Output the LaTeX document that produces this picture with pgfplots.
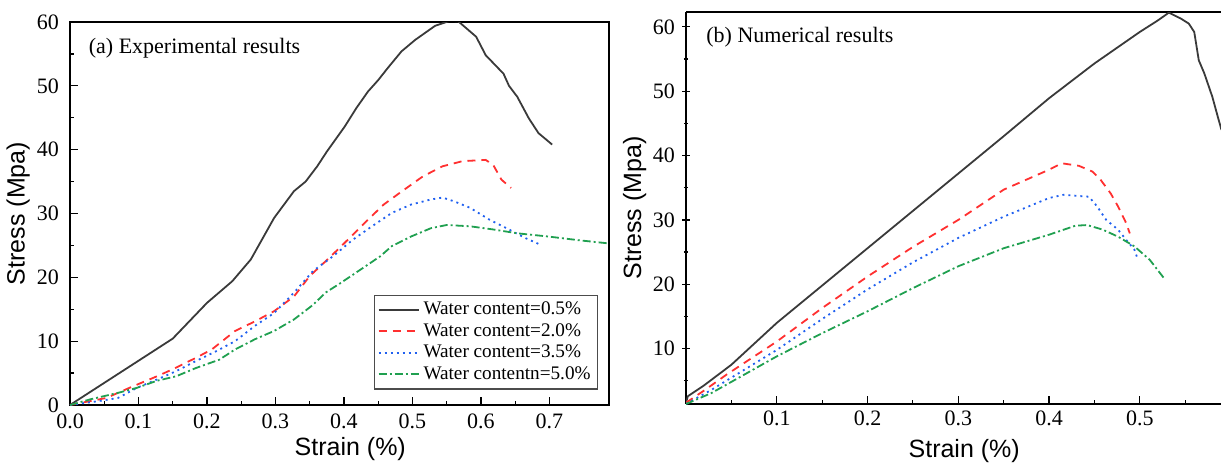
\documentclass[border=0pt]{standalone}
\usepackage{pgfplots}
\pgfplotsset{compat=1.18}
\usepackage{fontspec}
\setmainfont{Liberation Serif}
\newfontfamily\labelfont{Liberation Sans}
\definecolor{cblack}{HTML}{3A3A3A}
\definecolor{cred}{HTML}{FF3030}
\definecolor{cblue}{HTML}{2060F0}
\definecolor{cgreen}{HTML}{20A050}
\pgfplotsset{
  common/.style={
    scale only axis,
    tick align=inside,
    xtick pos=left, ytick pos=left,
    major tick length=4pt, minor tick length=2.2pt,
    minor x tick num=1, minor y tick num=1,
    every tick/.style={black, line width=0.6pt},
    axis line style={line width=0.7pt},
    /pgf/number format/assume math mode=true,
    tick label style={font=\fontsize{11}{12}\selectfont},
    ylabel={Stress (Mpa)},
    xlabel={Strain (\%)},
    every axis y label/.style={at={(axis description cs:-0.096,0.5)}, rotate=90, anchor=center, font=\labelfont\fontsize{12.5}{14}\selectfont},
    clip=true,
  },
  s1/.style={cblack, line width=0.9pt},
  s2/.style={cred, line width=0.9pt, dash pattern=on 4pt off 3pt},
  s3/.style={cblue, line width=0.9pt, dash pattern=on 1pt off 2pt},
  s4/.style={cgreen, line width=0.9pt, dash pattern=on 4pt off 1.5pt on 1pt off 1.5pt},
}
\begin{document}
\begin{tikzpicture}
\path[use as bounding box] (0,0) rectangle (610.5pt,231.5pt);
% Left panel
\begin{axis}[common,
  at={(35pt,29pt)}, anchor=south west,
  width=269.5pt, height=191.5pt,
  xmin=0, xmax=0.787, ymin=0, ymax=60,
  xtick={0,0.1,...,0.7},
  xticklabels={0.0,0.1,0.2,0.3,0.4,0.5,0.6,0.7},
  ytick={0,10,...,60},
  yticklabel style={xshift=-2pt},
  xticklabel style={yshift=-1pt},
  every axis x label/.style={at={(axis description cs:0.52,-0.115)}, anchor=center, font=\labelfont\fontsize{12.5}{14}\selectfont},
  legend style={at={(axis description cs:0.98,0.04)}, anchor=south east,
    font=\fontsize{9.6}{11}\selectfont, draw=black!70, line width=0.6pt,
    row sep=-1.2pt, inner sep=1.5pt, cells={anchor=west}},
  legend image post style={line width=1pt},
  legend image code/.code={\draw[#1] (0pt,0pt) -- (20pt,0pt);},
]
\addplot[s1] coordinates {
(0,0) (0.150,10.4) (0.200,16.0) (0.237,19.4) (0.264,22.8) (0.298,29.3) (0.327,33.5)
(0.344,35.0) (0.361,37.4) (0.375,39.7) (0.401,43.6) (0.418,46.5) (0.435,49.1)
(0.450,50.9) (0.464,52.8) (0.484,55.4) (0.504,57.2) (0.533,59.4) (0.555,60.2)
(0.567,60.1) (0.593,57.7) (0.607,54.8) (0.633,51.9) (0.641,50.0) (0.653,48.3)
(0.670,44.9) (0.684,42.6) (0.704,40.8)};
\addlegendentry{Water content=0.5\%}
\addplot[s2] coordinates {
(0,0) (0.053,1.1) (0.087,2.7) (0.127,4.5) (0.150,5.6) (0.184,7.4) (0.207,8.7)
(0.241,11.6) (0.270,13.1) (0.298,14.7) (0.327,17.0) (0.350,20.2) (0.378,23.0)
(0.401,25.4) (0.430,28.5) (0.458,31.4) (0.481,33.2) (0.515,35.8) (0.544,37.4)
(0.573,38.2) (0.607,38.4) (0.618,37.6) (0.630,35.3) (0.644,34.0)};
\addlegendentry{Water content=2.0\%}
\addplot[s3] coordinates {
(0,0) (0.041,0.6) (0.070,1.1) (0.098,2.7) (0.127,4.0) (0.155,5.3) (0.184,6.9)
(0.213,8.4) (0.241,10.0) (0.270,12.4) (0.298,14.4) (0.327,17.6) (0.355,21.0)
(0.384,23.3) (0.413,25.9) (0.441,28.0) (0.470,30.1) (0.498,31.4) (0.527,32.2)
(0.544,32.5) (0.561,31.9) (0.584,30.9) (0.613,29.0) (0.641,27.5) (0.664,26.2)
(0.687,25.1)};
\addlegendentry{Water content=3.5\%}
\addplot[s4] coordinates {
(0,0) (0.030,0.9) (0.070,1.9) (0.098,2.7) (0.127,3.8) (0.155,4.5) (0.184,5.8)
(0.218,7.1) (0.241,8.7) (0.270,10.3) (0.298,11.6) (0.327,13.4) (0.355,15.7)
(0.373,17.6) (0.395,19.1) (0.424,21.2) (0.453,23.3) (0.470,24.9) (0.498,26.4)
(0.527,27.7) (0.550,28.2) (0.584,28.0) (0.618,27.5) (0.653,26.9) (0.698,26.4)
(0.744,25.8) (0.788,25.3)};
\addlegendentry{Water contentn=5.0\%}
\node[anchor=west, font=\fontsize{11}{12}\selectfont, inner sep=0pt] at (axis cs:0.027,55.9) {(a) Experimental results};
\end{axis}
% Right panel
\begin{axis}[common,
  at={(343pt,29.5pt)}, anchor=south west,
  width=267.5pt, height=196pt,
  xmin=0, xmax=0.5895, ymin=1.4, ymax=62.3,
  axis x line=box, axis y line=left,
  every outer y axis line/.append style={-},
  xtick={0.1,0.2,...,0.5},
  xticklabels={0.1,0.2,0.3,0.4,0.5},
  extra x ticks={0.05,0.15,0.25,0.35,0.45,0.55}, extra x tick labels={},
  extra x tick style={major tick length=2.2pt},
  minor x tick num=0,
  ytick={10,20,...,60},
  minor ytick={5,15,25,35,45,55},
  minor y tick num=0,
  every axis x label/.style={at={(axis description cs:0.52,-0.12)}, anchor=center, font=\labelfont\fontsize{12.5}{14}\selectfont},
]
\addplot[s1] coordinates {
(0,1.6) (0.002,2.6) (0.019,4.2) (0.05,7.5) (0.1,14.0) (0.15,19.8) (0.2,25.6)
(0.25,31.4) (0.3,37.2) (0.35,43.0) (0.4,48.9) (0.45,54.3) (0.5,59.2) (0.52,61.0)
(0.532,62.2) (0.545,61.3) (0.554,60.5) (0.560,59.2) (0.565,54.8) (0.571,52.8)
(0.580,49.1) (0.586,46.0) (0.590,44.0)};
\addplot[s2] coordinates {
(0,1.6) (0.019,3.4) (0.045,6.0) (0.1,11.1) (0.15,16.3) (0.2,21.2) (0.25,25.8)
(0.3,30.0) (0.35,34.7) (0.4,37.8) (0.414,38.8) (0.433,38.4) (0.448,37.5)
(0.457,36.2) (0.468,34.1) (0.476,32.1) (0.485,29.5) (0.489,27.9)};
\addplot[s3] coordinates {
(0,1.4) (0.028,3.6) (0.1,9.8) (0.15,14.6) (0.2,19.2) (0.25,23.4) (0.3,27.2)
(0.35,30.5) (0.4,33.4) (0.416,33.9) (0.444,33.6) (0.453,32.1) (0.463,30.0)
(0.476,28.5) (0.485,26.9) (0.494,25.4) (0.498,23.8)};
\addplot[s4] coordinates {
(0,1.4) (0.028,3.1) (0.1,8.8) (0.15,12.4) (0.2,15.8) (0.25,19.4) (0.3,22.8)
(0.35,25.6) (0.4,27.7) (0.429,29.1) (0.442,29.2) (0.459,28.5) (0.476,27.4)
(0.494,25.9) (0.511,23.8) (0.528,20.7)};
\node[anchor=west, font=\fontsize{11}{12}\selectfont, inner sep=0pt] at (axis cs:0.022,58.4) {(b) Numerical results};
\end{axis}
\end{tikzpicture}
\end{document}
